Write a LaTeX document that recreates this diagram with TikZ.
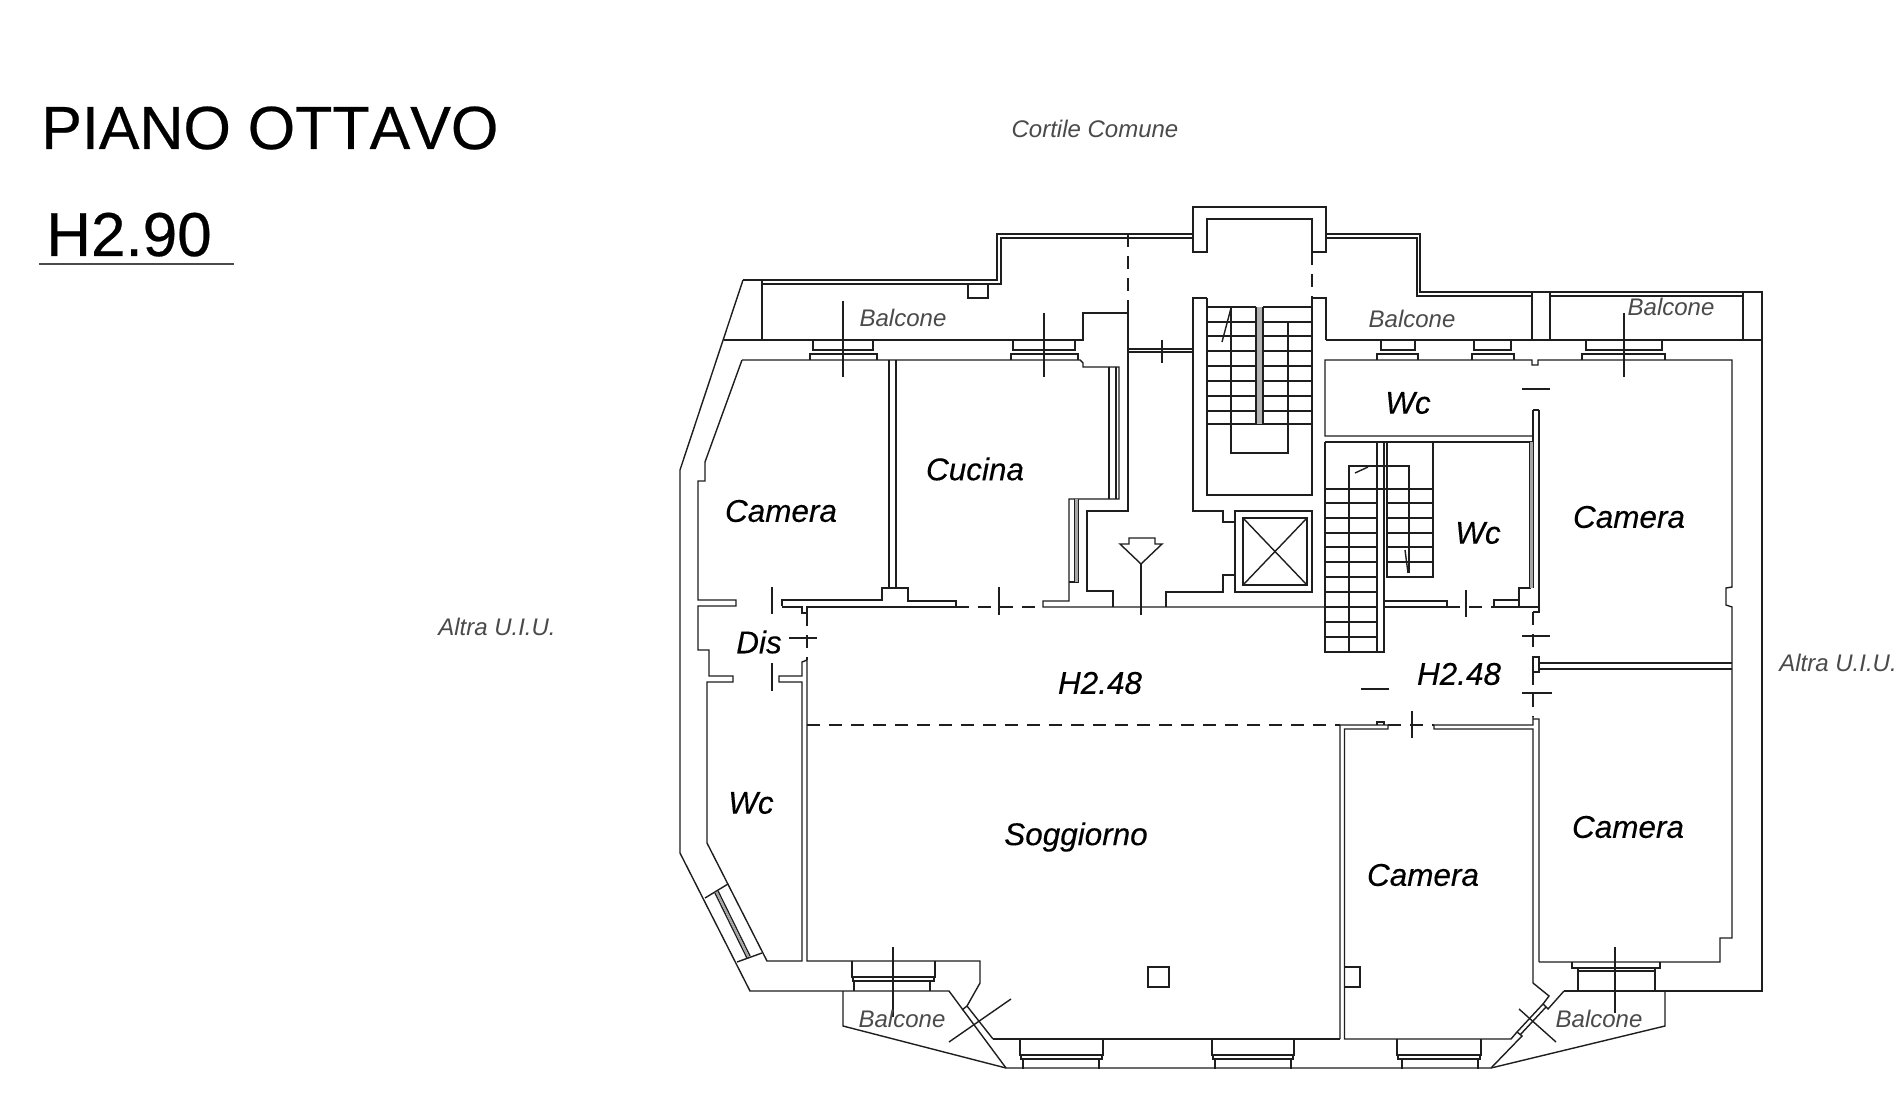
\documentclass[tikz,border=0pt]{standalone}
\usepackage{fontspec}
\setmainfont{Liberation Sans}
\definecolor{ink}{HTML}{1E1E1E}
\definecolor{soft}{HTML}{4A4A4A}
\newcommand{\wintop}[4]{% a b fa fb
  \draw[wall] (#1,340)--(#1,350)--(#2,350)--(#2,340);
  \draw[wall] (#3,360)--(#3,354)--(#4,354)--(#4,360);
}
\newcommand{\winbot}[5]{% a b c d top
  \draw[wall] (#1,#5)--(#1,#5+16)--(#2,#5+16)--(#2,#5);
  \draw[wall] (#1+1,#5+16)--(#1+1,#5+20)--(#2-1,#5+20)--(#2-1,#5+16);
  \draw[wall] (#3,#5+20)--(#3,#5+30) (#4,#5+20)--(#4,#5+30);
}
\begin{document}
\begin{tikzpicture}[x=0.75pt,y=-0.75pt,
  wall/.style={draw=ink,line width=1.05pt,line join=miter},
  hid/.style={draw=ink,line width=1.05pt,dash pattern=on 9.5pt off 7pt},
  grey wall/.style={draw=gray!70,line width=1.6pt},
  roomlabel/.style={font=\fontsize{23.6}{26}\selectfont\itshape\addfontfeatures{FakeBold=0.25},text=black,inner sep=0pt},
  smalllabel/.style={font=\fontsize{18}{20}\selectfont\itshape,text=soft,inner sep=0pt},
  title/.style={font=\fontsize{45.7}{50}\selectfont\addfontfeatures{Kerning=Off,FakeBold=0.4},text=black,inner sep=0pt,anchor=base west}]
\useasboundingbox (0,0) rectangle (1903,1109);
\fill[white] (0,0) rectangle (1903,1109);

% --- titles
\node[title] (ttl) at (41,149) {PIANO OTTAVO};
\node[title,font=\fontsize{46.5}{50}\selectfont\addfontfeatures{FakeBold=0.4}] (hgt) at (46,256) {H2.90};
\draw[draw=soft,line width=1.05pt] (39,264)--(234,264);

% --- outer shell
\draw[wall] (762,340)--(724,340);
\draw[wall] (743,280)--(680,470)--(680,853)--(750,991)--(949,991)--(1006,1068);
\draw[wall] (743,280)--(762,280)--(762,340);
\draw[wall] (762,280)--(997,280)--(997,234)--(1193,234);
\draw[wall] (762,284)--(1001,284)--(1001,238)--(1193,238);
\draw[wall] (968,284)--(968,298)--(988,298)--(988,284);
\draw[wall] (1193,252)--(1193,207)--(1326,207)--(1326,252)--(1312,252)--(1312,219)--(1207,219)--(1207,252)--cycle;
\draw[wall] (1326,234)--(1420,234)--(1420,292)--(1532,292);
\draw[wall] (1326,238)--(1417,238)--(1417,296)--(1532,296);
\draw[wall] (1550,292)--(1743,292) (1550,296)--(1743,296);
\draw[wall] (1532,292)--(1550,292);
\draw[wall] (1532,292)--(1532,340) (1550,292)--(1550,340);
\draw[wall] (1743,292)--(1743,340);
\draw[wall] (1743,292)--(1762,292)--(1762,991)--(1564,991);
\draw[wall] (724,340)--(1083,340)--(1083,313)--(1128,313);
\draw[wall] (1326,340)--(1762,340);
\draw[hid] (1128,234)--(1128,313);
\draw[hid] (1312,252)--(1312,298);
\draw[wall] (1128,313)--(1128,511)--(1087,511)--(1087,591)--(1113,591)--(1113,607);
% balcony bottom
\draw[wall] (843,991)--(843,1026)--(1006,1068)--(1491,1068)--(1665,1026)--(1665,991);

% --- inner line of the top wall, rooms
\draw[wall] (742,360)--(1080,360)--(1083,363)--(1083,367)--(1119,367)--(1119,499)--(1069,499)--(1069,601)--(1043,601)--(1043,607)--(1325,607);
\draw[wall] (1109,367)--(1109,499) (1116,367)--(1116,499);
\draw[wall] (1075,499)--(1075,582)--(1069,582) (1078,499)--(1078,582)--(1075,582);
\draw[grey wall] (1076.5,499)--(1076.5,582);
% left camera outline
\draw[wall] (742,360)--(705,462)--(705,481)--(698,481)--(698,600)--(736,600)--(736,606)--(698,606)--(698,650)--(709,650)--(709,676)--(733,676)--(733,682)--(707,682)--(707,843)--(767,961)--(802,961)--(802,682)--(779,682)--(779,676)--(802,676)--(802,662)--(807,660)--(807,961)--(980,961)--(980,983)--(967,1006);
% door jambs top-left
\draw[wall] (782,606)--(782,600)--(882,600)--(882,588)--(908,588)--(908,601)--(956,601)--(956,607)--(807,607)--(807,613)--(802,613)--(802,607)--(782,607);
\draw[wall] (889,360)--(889,588) (896,360)--(896,588);
\draw[wall] (772,587)--(772,614) (772,663)--(772,691);
\draw[hid] (807,613)--(807,660);
\draw[wall] (789,638)--(817,638);
\draw[hid] (956,607)--(1043,607);
\draw[wall] (999,587)--(999,615);

% hidden living line
\draw[hid] (807,725)--(1340,725);
% right bedroom wall block
\draw[wall] (1340,1039)--(1340,725)--(1388,725)--(1388,729)--(1344.5,729)--(1344.5,1039)--(1511,1039)--(1517,1032);
\draw[wall] (1377,725)--(1377,722)--(1384,722)--(1384,725);
\draw[hid] (1388,725)--(1434,725);
\draw[wall] (1412,711)--(1412,738);
\draw[wall] (1434,725)--(1533,725)--(1533,717) (1533,719)--(1539,719)--(1539,962) (1434,725)--(1434,729)--(1533,729)--(1533,983)--(1549,996)--(1543,1004)--(1548,1009)--(1564,991);
\draw[wall] (1539,962)--(1720,962)--(1720,938)--(1732,938)--(1732,607)--(1726,605)--(1726,588)--(1732,587)--(1732,360)--(1538,360)--(1538,365)--(1532,365)--(1532,360)--(1325,360)--(1325,436)--(1533,436);
\draw[wall] (1325,442)--(1533,442);
\draw[wall] (1533,410)--(1533,588) (1539,410)--(1539,612)--(1533,612) (1533,410)--(1539,410);
\draw[wall] (1530,442)--(1530,588)--(1519,588)--(1519,607)--(1494,607)--(1494,600)--(1519,600);
\draw[grey wall] (1531.5,442)--(1531.5,588);
\draw[wall] (1519,607)--(1539,607);
\draw[wall] (1522,389)--(1550,389);
% partition between right bedrooms
\draw[wall] (1539,663)--(1732,663) (1539,669)--(1732,669);
\draw[wall] (1533,657)--(1533,672)--(1539,672)--(1539,657)--cycle;
\draw[hid] (1533,612)--(1533,657);
\draw[hid] (1533,672)--(1533,717);
\draw[wall] (1522,636)--(1550,636) (1522,693)--(1552,693);
\draw[wall] (1344.5,967)--(1360,967)--(1360,987)--(1344.5,987);
% centre pillar
\draw[wall] (1148,967) rectangle (1169,987);
% door tick + WC door
\draw[wall] (1383,601)--(1447,601)--(1447,607)--(1383,607);
\draw[hid] (1447,607)--(1494,607);
\draw[wall] (1466,590)--(1466,617);
\draw[wall] (1361,689)--(1389,689);
% corridor top
\draw[wall] (1128,349)--(1193,349) (1128,352)--(1193,352);
\draw[wall] (1162,340)--(1162,363);
% stairs wall
\draw[wall] (1207,298)--(1193,298)--(1193,511)--(1223,511)--(1223,522)--(1235,522);
\draw[wall] (1207,298)--(1207,495)--(1312,495)--(1312,298)--(1326,298)--(1326,340);
% lift
\draw[wall] (1235,511) rectangle (1312,592);
\draw[wall] (1243,518) rectangle (1307,585);
\draw[wall] (1243,518)--(1307,585) (1307,518)--(1243,585);
\draw[wall] (1235,575)--(1223,575)--(1223,592)--(1166,592)--(1166,607);
% stack symbol
\draw[wall] (1120,544)--(1129,544)--(1129,538)--(1155,538)--(1155,544)--(1162,544)--(1141,564)--cycle;
\draw[wall] (1141,564)--(1141,615);
% upper stair
\foreach \yy in {307,322,336,351,366,381,396,411,424}{\draw[wall] (1207,\yy)--(1256,\yy) (1263,\yy)--(1312,\yy);}
\draw[wall] (1256,424)--(1263,424);
\draw[draw=gray!60,line width=3.6pt] (1259.5,307)--(1259.5,424);
\draw[wall] (1256,307)--(1256,424) (1263,307)--(1263,424);
\draw[wall] (1231,307)--(1231,453)--(1288,453)--(1288,322);
\draw[wall] (1222,342)--(1231,308);
% lower stair
\foreach \yy in {489,503,518,533,547,562,577,592,607,622,637}{\draw[wall] (1325,\yy)--(1377,\yy);}
\foreach \yy in {489,503,518,533,547,562}{\draw[wall] (1387,\yy)--(1433,\yy);}
\draw[wall] (1377,489)--(1387,489);
\draw[wall] (1325,442)--(1325,652)--(1384,652)--(1384,442) (1377,442)--(1377,652);
\draw[wall] (1387,442)--(1387,577)--(1433,577)--(1433,442);
\draw[wall] (1349,652)--(1349,466)--(1409,466)--(1409,573);
\draw[wall] (1355,473)--(1368,467);
\draw[wall] (1405,550)--(1408,573);

% --- windows, top
\wintop{813}{873}{810}{877}
\draw[wall] (843,301)--(843,377);
\wintop{1013}{1075}{1011}{1078}
\draw[wall] (1044,313)--(1044,377);
\wintop{1381}{1415}{1377}{1418}
\wintop{1474}{1511}{1472}{1514}
\wintop{1586}{1662}{1582}{1665}
\draw[wall] (1624,313)--(1624,377);
% --- windows, bottom
\winbot{852}{935}{854}{930}{961}
\draw[wall] (893,947)--(893,1017);
\winbot{1020}{1103}{1023}{1099}{1039}
\winbot{1212}{1294}{1215}{1291}{1039}
\winbot{1397}{1481}{1402}{1478}{1039}
\draw[wall] (1572,962)--(1572,968)--(1660,968)--(1660,962);
\draw[wall] (1578,968)--(1578,991) (1655,968)--(1655,991) (1578,971)--(1655,971);
\draw[wall] (1615,947)--(1615,1013);
% bottom line of wall south side
\draw[wall] (993,1039)--(1340,1039);
% SW diagonal window
\draw[wall] (967,1006)--(962,1010);
\draw[wall] (967,1006)--(993,1039);
\draw[wall] (949,1042)--(1011,999);
% SE diagonal window
\draw[wall] (1543,1004)--(1517,1032)--(1522,1036)--(1491,1068);
\draw[wall] (1546,1007)--(1520,1035);
\draw[wall] (1519,1009)--(1556,1042);
% west window
\draw[wall] (705,898)--(728,884);
\draw[wall] (715,893)--(747,958);
\draw[wall] (718,891)--(750,956);
\draw[grey wall] (716.5,892)--(748.5,957);
\draw[wall] (737,962)--(762,953);

% --- labels
\node[roomlabel] (r1) at (781,511) {Camera};
\node[roomlabel] (r2) at (975,469) {Cucina};
\node[roomlabel] (r3) at (1408,403) {Wc};
\node[roomlabel] (r4) at (1478,533) {Wc};
\node[roomlabel] (r5) at (1629,517) {Camera};
\node[roomlabel] (r6) at (759,642) {Dis};
\node[roomlabel] (r7) at (1100,683) {H2.48};
\node[roomlabel] (r8) at (1459,674) {H2.48};
\node[roomlabel] (r9) at (1628,827) {Camera};
\node[roomlabel] (r10) at (1423,875) {Camera};
\node[roomlabel] (r11) at (751,803) {Wc};
\node[roomlabel] (r12) at (1076,837) {Soggiorno};
\node[smalllabel] (b1) at (903,318) {Balcone};
\node[smalllabel] (b2) at (1412,319) {Balcone};
\node[smalllabel] (b3) at (1671,307) {Balcone};
\node[smalllabel] (b4) at (902,1019) {Balcone};
\node[smalllabel] (b5) at (1599,1019) {Balcone};
\node[smalllabel] (c1) at (1095,129) {Cortile Comune};
\node[smalllabel] (a1) at (497,627) {Altra U.I.U.};
\node[smalllabel] (a2) at (1838,663) {Altra U.I.U.};
\end{tikzpicture}
\end{document}
